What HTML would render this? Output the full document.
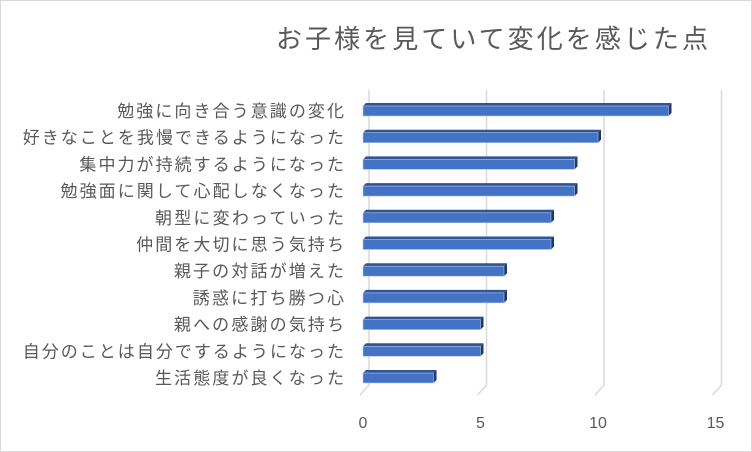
<!DOCTYPE html>
<html><head><meta charset="utf-8"><style>
body{margin:0;background:#fff}
svg{display:block;font-family:"Liberation Sans","Noto Sans CJK JP",sans-serif}
</style></head><body>
<svg width="752" height="452">
<rect x="0.5" y="0.5" width="751" height="451" fill="#fff" stroke="#d9d9d9"/>
<text x="276" y="48" font-size="26" fill="#595959" textLength="432" lengthAdjust="spacing">お子様を見ていて変化を感じた点</text>
<g id="grid"></g><g id="bars"></g><g id="labels"></g><g id="ticks"></g>
</svg>
<script>
const categories=["勉強に向き合う意識の変化","好きなことを我慢できるようになった","集中力が持続するようになった","勉強面に関して心配しなくなった","朝型に変わっていった","仲間を大切に思う気持ち","親子の対話が増えた","誘惑に打ち勝つ心","親への感謝の気持ち","自分のことは自分でするようになった","生活態度が良くなった"];
const values=[13,10,9,9,8,8,6,6,5,5,3];
const tickValues=[0,5,10,15];
const NS="http://www.w3.org/2000/svg";
const x0=363,unit=23.5,rowTop=106,pitch=26.7,bh=10,dx=3,dy=3;
const xs=v=>x0+v*unit;
function mk(t,a,p){const e=document.createElementNS(NS,t);for(const k in a)e.setAttribute(k,a[k]);document.getElementById(p).appendChild(e);return e;}
tickValues.forEach(v=>{
  const fx=xs(v)-3,bx=xs(v)+6;
  const g=mk('path',{d:`M${bx},90 L${bx},385 L${fx},395`,stroke:'#d9d9d9','stroke-width':1.5,fill:'none'},'grid');
  
  
  const t=mk('text',{x:xs(v),y:428,'font-size':16,fill:'#595959','text-anchor':'middle'},'ticks');
  t.textContent=v;
  
  
});
values.forEach((v,i)=>{
  const y=rowTop+i*pitch,x1=xs(v);
  const top=mk('polygon',{points:`${x0},${y} ${x0+dx},${y-dy} ${x1+dx},${y-dy} ${x1},${y}`,fill:'#2f5597'},'bars');
  
  
  const side=mk('polygon',{points:`${x1},${y} ${x1+dx},${y-dy} ${x1+dx},${y+bh-dy} ${x1},${y+bh}`,fill:'#203864'},'bars');
  
  
  const r=mk('rect',{x:x0,y:y,width:x1-x0,height:bh,fill:'#4472c4',stroke:'#b4c7e7','stroke-width':0.6},'bars');
  
  
  const n=categories[i].length,w=n*18.9;
  const t=mk('text',{x:344-w,y:y+11,'font-size':17,fill:'#595959',textLength:w,lengthAdjust:'spacing'},'labels');
  t.textContent=categories[i];
  
  
});
</script>
</body></html>
